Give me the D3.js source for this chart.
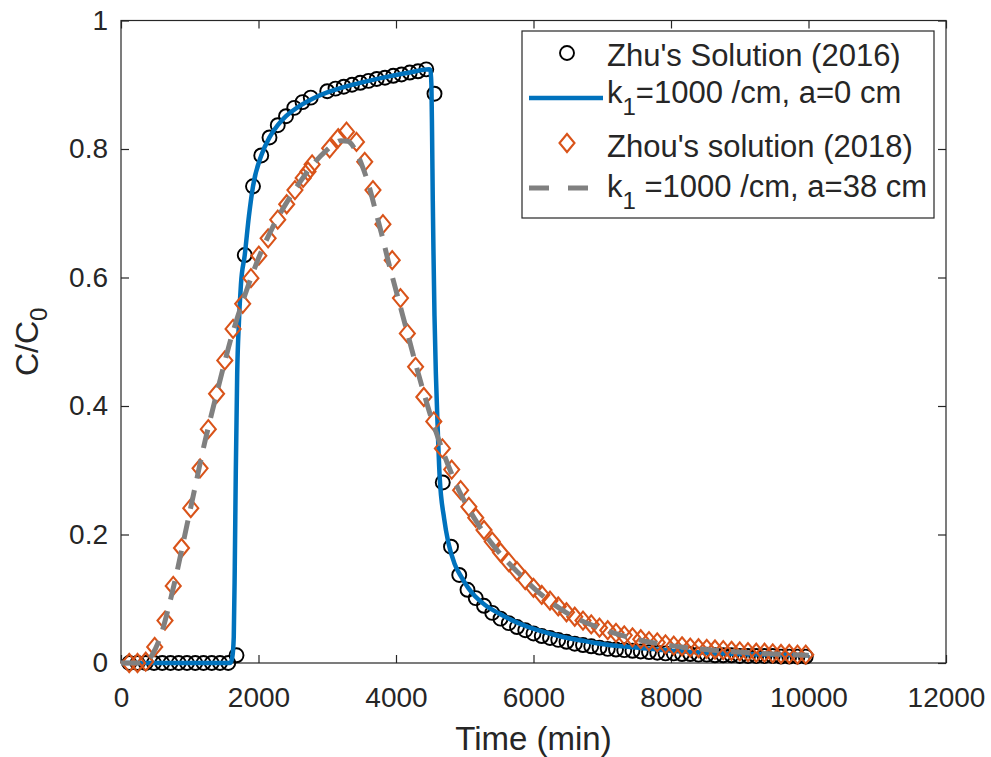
<!DOCTYPE html>
<html>
<head>
<meta charset="utf-8">
<script src="https://cdn.jsdelivr.net/npm/d3@7"></script>
<style>
  html, body { margin: 0; padding: 0; background: #ffffff; }
  svg { display: block; }
  text { font-family: "Liberation Sans", Arial, Helvetica, sans-serif; fill: #262626; }
</style>
</head>
<body>
<svg id="chart" width="991" height="757"></svg>
<script>
// ---- axis ticks ----
const xTicks = [0, 2000, 4000, 6000, 8000, 10000, 12000];
const yTicks = [0, 0.2, 0.4, 0.6, 0.8, 1];
const yTickLabels = ["0", "0.2", "0.4", "0.6", "0.8", "1"];

// ---- Zhu's Solution (2016), circles ----
const zhuTime = [120, 240, 360, 480, 600, 720, 840, 960, 1080, 1200, 1320, 1440, 1560,
  1680, 1800, 1920, 2040, 2160, 2280, 2400, 2520, 2640, 2760,
  3000, 3120, 3240, 3360, 3480, 3600, 3720, 3840, 3960, 4080, 4200, 4320, 4440,
  4560, 4680, 4800, 4920, 5040, 5160, 5280, 5400, 5520, 5640, 5760, 5880,
  6000, 6120, 6240, 6360, 6480, 6600, 6720, 6840, 6960, 7080, 7200, 7320, 7440,
  7560, 7680, 7800, 7920, 8040, 8160, 8280, 8400, 8520, 8640, 8760, 8880,
  9000, 9120, 9240, 9360, 9480, 9600, 9720, 9840, 9960];
const zhuConc = [0, 0, 0, 0, 0, 0, 0, 0, 0, 0, 0, 0, 0,
  0.012, 0.635, 0.742, 0.790, 0.818, 0.837, 0.851, 0.864, 0.873, 0.880,
  0.890, 0.894, 0.897, 0.900, 0.903, 0.906, 0.909, 0.911, 0.914, 0.916, 0.919, 0.921, 0.924,
  0.886, 0.281, 0.181, 0.137, 0.114, 0.101, 0.089, 0.078, 0.069, 0.062, 0.056, 0.051,
  0.046, 0.042, 0.039, 0.036, 0.033, 0.030, 0.028, 0.026, 0.024, 0.022, 0.021, 0.020, 0.019,
  0.018, 0.017, 0.016, 0.015, 0.015, 0.014, 0.014, 0.013, 0.013, 0.012, 0.012, 0.012,
  0.011, 0.011, 0.011, 0.011, 0.011, 0.010, 0.010, 0.010, 0.010];

// ---- k1 = 1000 /cm, a = 0 cm (solid line) ----
const modelATime = [0, 1590, 1620, 1640, 1655, 1670, 1690, 1715, 1745, 1800, 1860, 1920,
  2040, 2160, 2280, 2400, 2600, 2800, 3000, 3300, 3600, 3900, 4200, 4480, 4500,
  4515, 4525, 4535, 4545, 4560, 4580, 4605, 4635, 4700, 4760, 4850, 4950, 5050,
  5150, 5300, 5500, 5700, 5900, 6100, 6300, 6500, 6700, 6900, 7100, 7300, 7500,
  7700, 8000, 8500, 9000, 9500, 10000];
const modelAConc = [0, 0, 0.01, 0.04, 0.15, 0.30, 0.45, 0.53, 0.59, 0.635, 0.695, 0.742,
  0.790, 0.818, 0.837, 0.851, 0.867, 0.879, 0.888, 0.898, 0.906, 0.913, 0.919, 0.924, 0.923,
  0.90, 0.82, 0.72, 0.64, 0.54, 0.45, 0.37, 0.29, 0.225, 0.188, 0.155, 0.134, 0.117,
  0.104, 0.090, 0.077, 0.066, 0.057, 0.050, 0.044, 0.039, 0.035, 0.031, 0.028, 0.026, 0.024,
  0.022, 0.019, 0.016, 0.014, 0.013, 0.012];

// ---- Zhou's solution (2018), diamonds ----
const zhouTime = [120, 240, 360, 490, 640, 760, 880, 1015, 1150, 1270, 1390, 1510, 1630,
  1770, 1890, 2005, 2140, 2280, 2410, 2530, 2650, 2720, 2780, 3035, 3160, 3280,
  3425, 3545, 3665, 3810, 3945, 4065, 4165, 4285, 4405, 4550, 4675, 4810, 4940, 5060,
  5160, 5280, 5400, 5520, 5640, 5760, 5880, 6000, 6120, 6240, 6360, 6480, 6600,
  6720, 6840, 6960, 7080, 7200, 7320, 7440, 7560, 7680, 7800, 7920, 8040, 8160,
  8280, 8400, 8520, 8640, 8760, 8880, 9000, 9120, 9240, 9360, 9480, 9600, 9720,
  9840, 9960];
const zhouConc = [0, 0, 0.002, 0.025, 0.066, 0.120, 0.179, 0.241, 0.303, 0.364, 0.419, 0.471, 0.520,
  0.559, 0.599, 0.634, 0.661, 0.690, 0.714, 0.736, 0.755, 0.765, 0.776, 0.801, 0.817, 0.827,
  0.811, 0.780, 0.736, 0.683, 0.627, 0.568, 0.513, 0.461, 0.414, 0.376, 0.334, 0.301, 0.269, 0.243,
  0.226, 0.207, 0.189, 0.172, 0.157, 0.143, 0.129, 0.117, 0.106, 0.097, 0.088, 0.079, 0.072,
  0.066, 0.060, 0.055, 0.051, 0.047, 0.043, 0.040, 0.037, 0.034, 0.032, 0.029, 0.027, 0.026,
  0.024, 0.023, 0.022, 0.021, 0.020, 0.019, 0.018, 0.017, 0.016, 0.016, 0.015, 0.014, 0.014,
  0.013, 0.013];

// ---- k1 = 1000 /cm, a = 38 cm (dashed line) ----
const modelBTime = [0, 300, 400, 500, 600, 700, 800, 900, 1000, 1100, 1200, 1300, 1400,
  1500, 1600, 1700, 1800, 1900, 2000, 2200, 2400, 2600, 2800, 3000, 3100, 3200, 3300,
  3400, 3500, 3600, 3700, 3800, 3900, 4000, 4100, 4200, 4300, 4400, 4500, 4600, 4700,
  4800, 4900, 5000, 5200, 5400, 5600, 5800, 6000, 6500, 7000, 7500, 8000, 8500, 9000,
  9500, 10000];
const modelBConc = [0, 0, 0.005, 0.022, 0.050, 0.090, 0.135, 0.185, 0.235, 0.285, 0.335, 0.380, 0.423,
  0.465, 0.505, 0.540, 0.572, 0.602, 0.630, 0.677, 0.715, 0.748, 0.777, 0.799, 0.808, 0.813, 0.812,
  0.800, 0.776, 0.745, 0.705, 0.664, 0.620, 0.580, 0.540, 0.500, 0.460, 0.422, 0.386, 0.354, 0.324,
  0.297, 0.272, 0.251, 0.215, 0.185, 0.160, 0.138, 0.117, 0.077, 0.053, 0.037, 0.027, 0.021, 0.017,
  0.014, 0.012];

// ---- layout ----
const plot = { left: 121, right: 946, top: 20.5, bottom: 663 };
const INK = "#262626";
const BLUE = "#0072BD", ORANGE = "#D95319", GREY = "#808080";
const CIRCLE_R = 7, DIA_W = 7.5, DIA_H = 9;

const svg = d3.select("#chart");
const x = d3.scaleLinear().domain([0, 12000]).range([plot.left, plot.right]);
const y = d3.scaleLinear().domain([0, 1]).range([plot.bottom, plot.top]);

// frame and inward ticks on all four sides
const axisStyle = g => {
  g.select(".domain").remove();
  g.selectAll(".tick line").attr("stroke", INK).attr("stroke-width", 1.2);
  g.selectAll(".tick text").attr("fill", INK).style("font-size", "28px");
};

svg.append("g").attr("transform", `translate(0,${plot.bottom})`)
  .call(d3.axisBottom(x).tickValues(xTicks).tickFormat(d3.format("d"))
    .tickSizeInner(-8).tickSizeOuter(0).tickPadding(24))
  .call(axisStyle);
svg.append("g").attr("transform", `translate(0,${plot.top})`)
  .call(d3.axisTop(x).tickValues(xTicks).tickFormat("").tickSizeInner(-8).tickSizeOuter(0))
  .call(axisStyle);
svg.append("g").attr("transform", `translate(${plot.left},0)`)
  .call(d3.axisLeft(y).tickValues(yTicks).tickFormat((d, i) => yTickLabels[i])
    .tickSizeInner(-8).tickSizeOuter(0).tickPadding(13))
  .call(axisStyle);
svg.append("g").attr("transform", `translate(${plot.right},0)`)
  .call(d3.axisRight(y).tickValues(yTicks).tickFormat("").tickSizeInner(-8).tickSizeOuter(0))
  .call(axisStyle);

svg.append("rect")
  .attr("x", plot.left).attr("y", plot.top)
  .attr("width", plot.right - plot.left).attr("height", plot.bottom - plot.top)
  .attr("fill", "none").attr("stroke", INK).attr("stroke-width", 1.2);

// axis titles
svg.append("text")
  .attr("x", (plot.left + plot.right) / 2).attr("y", 750)
  .attr("text-anchor", "middle").style("font-size", "33px")
  .text("Time (min)");

const yTitle = svg.append("text")
  .attr("transform", `translate(38,${(plot.top + plot.bottom) / 2}) rotate(-90)`)
  .attr("text-anchor", "middle").style("font-size", "32px");
yTitle.append("tspan").text("C/C");
yTitle.append("tspan").attr("dy", 9).style("font-size", "24px").text("0");

// ---- series ----
const zhu = zhuTime.map((t, i) => [t, zhuConc[i]]);
const modelA = modelATime.map((t, i) => [t, modelAConc[i]]);
const zhou = zhouTime.map((t, i) => [t, zhouConc[i]]);
const modelB = modelBTime.map((t, i) => [t, modelBConc[i]]);

const line = d3.line().x(d => x(d[0])).y(d => y(d[1])).curve(d3.curveMonotoneX);
const diamond = (cx, cy, hw, hh) =>
  `M${cx},${cy - hh}L${cx + hw},${cy}L${cx},${cy + hh}L${cx - hw},${cy}Z`;

svg.append("g").selectAll("circle").data(zhu).join("circle")
  .attr("cx", d => x(d[0])).attr("cy", d => y(d[1])).attr("r", CIRCLE_R)
  .attr("fill", "none").attr("stroke", "#000").attr("stroke-width", 1.9);

svg.append("path").datum(modelA)
  .attr("d", line).attr("fill", "none")
  .attr("stroke", BLUE).attr("stroke-width", 4.5).attr("stroke-linejoin", "round");

svg.append("g").selectAll("path").data(zhou).join("path")
  .attr("d", d => diamond(x(d[0]), y(d[1]), DIA_W, DIA_H))
  .attr("fill", "none").attr("stroke", ORANGE).attr("stroke-width", 2.1);

svg.append("path").datum(modelB)
  .attr("d", line).attr("fill", "none")
  .attr("stroke", GREY).attr("stroke-width", 5).attr("stroke-dasharray", "19,12");

// ---- legend ----
const lg = svg.append("g");
lg.append("rect").attr("x", 522).attr("y", 31).attr("width", 412).attr("height", 187)
  .attr("fill", "#fff").attr("stroke", INK).attr("stroke-width", 1.2);

const mx = 567, tx = 607, fs = "31px", sub = "24px";
lg.append("circle").attr("cx", mx).attr("cy", 53).attr("r", CIRCLE_R)
  .attr("fill", "none").attr("stroke", "#000").attr("stroke-width", 1.9);
lg.append("text").attr("x", tx).attr("y", 66).style("font-size", fs).text("Zhu's Solution (2016)");

lg.append("line").attr("x1", 529).attr("x2", 603).attr("y1", 98).attr("y2", 98)
  .attr("stroke", BLUE).attr("stroke-width", 4.5);
const t2 = lg.append("text").attr("x", tx).attr("y", 103).style("font-size", fs);
t2.append("tspan").text("k");
t2.append("tspan").attr("dy", 12).style("font-size", sub).text("1");
t2.append("tspan").attr("dy", -12).text("=1000 /cm, a=0 cm");

lg.append("path").attr("d", diamond(mx, 143, DIA_W, DIA_H))
  .attr("fill", "none").attr("stroke", ORANGE).attr("stroke-width", 2.1);
lg.append("text").attr("x", tx).attr("y", 157).style("font-size", fs).text("Zhou's solution (2018)");

lg.append("line").attr("x1", 529).attr("x2", 603).attr("y1", 188).attr("y2", 188)
  .attr("stroke", GREY).attr("stroke-width", 5).attr("stroke-dasharray", "20,19");
const t4 = lg.append("text").attr("x", tx).attr("y", 197).style("font-size", fs);
t4.append("tspan").text("k");
t4.append("tspan").attr("dy", 12).style("font-size", sub).text("1");
t4.append("tspan").attr("dy", -12).text(" =1000 /cm, a=38 cm");
</script>
</body>
</html>
